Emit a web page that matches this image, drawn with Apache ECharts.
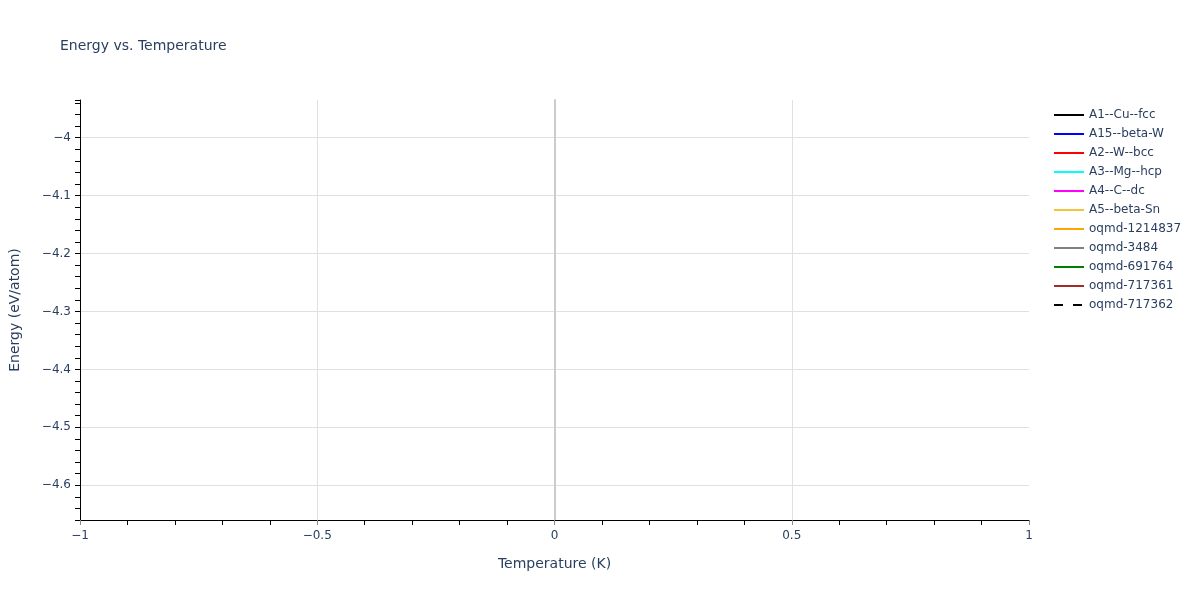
<!DOCTYPE html>
<html>
<head>
<meta charset="utf-8">
<script src="https://cdn.jsdelivr.net/npm/echarts@6/dist/echarts.min.js"></script>
<style>html,body{margin:0;padding:0;background:#fff}#c{width:1200px;height:600px}</style>
</head>
<body>
<div id="c"></div>
<script>
// Series names and colours (no visible data points in the reference chart)
const seriesNames = ['A1--Cu--fcc','A15--beta-W','A2--W--bcc','A3--Mg--hcp','A4--C--dc','A5--beta-Sn','oqmd-1214837','oqmd-3484','oqmd-691764','oqmd-717361','oqmd-717362'];
const seriesColors = ['#000000','#0000ff','#ff0000','#00ffff','#ff00ff','#f2c53d','#ffa500','#808080','#008000','#a52a2a','#000000'];
const seriesDash = ['solid','solid','solid','solid','solid','solid','solid','solid','solid','solid',[9, 10]];
// Temperature (K) / Energy (eV/atom) pairs per series: empty in the reference
const seriesData = [[],[],[],[],[],[],[],[],[],[],[]];
// Axis ranges
const xRange = [-1, 1];
const yRange = [-4.66, -3.935];

const font = '"DejaVu Sans", Verdana, sans-serif';
const txt = '#2a3f5f';
const fmtMinus = v => String(Math.round(v * 10) / 10).replace('-', '\u2212');

const chart = echarts.init(document.getElementById('c'), null, {renderer: 'canvas'});
chart.setOption({
  animation: false,
  backgroundColor: '#fff',
  title: {
    text: 'Energy vs. Temperature', left: 55, top: 34,
    textStyle: {fontFamily: font, fontSize: 14, fontWeight: 'normal', color: txt}
  },
  legend: {
    orient: 'vertical', left: 1048, top: 104,
    itemWidth: 30, itemHeight: 14, itemGap: 7,
    itemStyle: {opacity: 0},
    lineStyle: {width: 2},
    textStyle: {fontFamily: font, fontSize: 12, color: txt},
    data: seriesNames
  },
  grid: {left: 79, right: 171, top: 100, bottom: 80, containLabel: false},
  xAxis: {
    type: 'value', min: xRange[0], max: xRange[1], interval: 0.5,
    name: 'Temperature (K)', nameLocation: 'middle', nameGap: 37,
    nameTextStyle: {fontFamily: font, fontSize: 14, color: txt},
    axisLine: {show: true, onZero: false, lineStyle: {color: '#000', width: 1}},
    axisTick: {show: true, length: 5, lineStyle: {color: '#888'}},
    minorTick: {show: true, splitNumber: 5, length: 5, lineStyle: {color: '#000'}},
    axisLabel: {fontFamily: font, fontSize: 12, color: txt, margin: 10, formatter: fmtMinus},
    splitLine: {show: true, showMinLine: false, showMaxLine: false, lineStyle: {color: '#e0e0e0', width: 1}}
  },
  yAxis: [
    {
      type: 'value', position: 'left', min: yRange[0], max: yRange[1], splitNumber: 7,
      name: 'Energy (eV/atom)', nameLocation: 'middle', nameGap: 58,
      nameTextStyle: {fontFamily: font, fontSize: 14, color: txt},
      axisLine: {show: true, onZero: false, lineStyle: {color: '#000', width: 1}},
      axisTick: {show: true, length: 5, lineStyle: {color: '#888'}},
      axisLabel: {fontFamily: font, fontSize: 12, color: txt, margin: 9, formatter: fmtMinus,
                  showMinLabel: false, showMaxLabel: false},
      splitLine: {show: true, showMinLine: false, showMaxLine: false, lineStyle: {color: '#e0e0e0', width: 1}}
    },
    {
      type: 'value', position: 'left', min: yRange[0], max: yRange[1], interval: 0.02,
      axisLine: {show: false, onZero: false},
      axisTick: {show: true, length: 5, lineStyle: {color: '#000'}},
      axisLabel: {show: false},
      splitLine: {show: false}
    },
    {
      type: 'value', position: 'left', min: yRange[0], max: yRange[1],
      axisLine: {show: true, onZero: true, onZeroAxisIndex: 0, lineStyle: {color: '#cccccc', width: 2}},
      axisTick: {show: false},
      axisLabel: {show: false},
      splitLine: {show: false}
    }
  ],
  series: seriesNames.map((n, i) => ({
    name: n, type: 'line', symbol: 'none', showSymbol: false,
    data: seriesData[i],
    color: seriesColors[i],
    lineStyle: {color: seriesColors[i], width: 2, type: seriesDash[i]}
  }))
});
</script>
</body>
</html>
